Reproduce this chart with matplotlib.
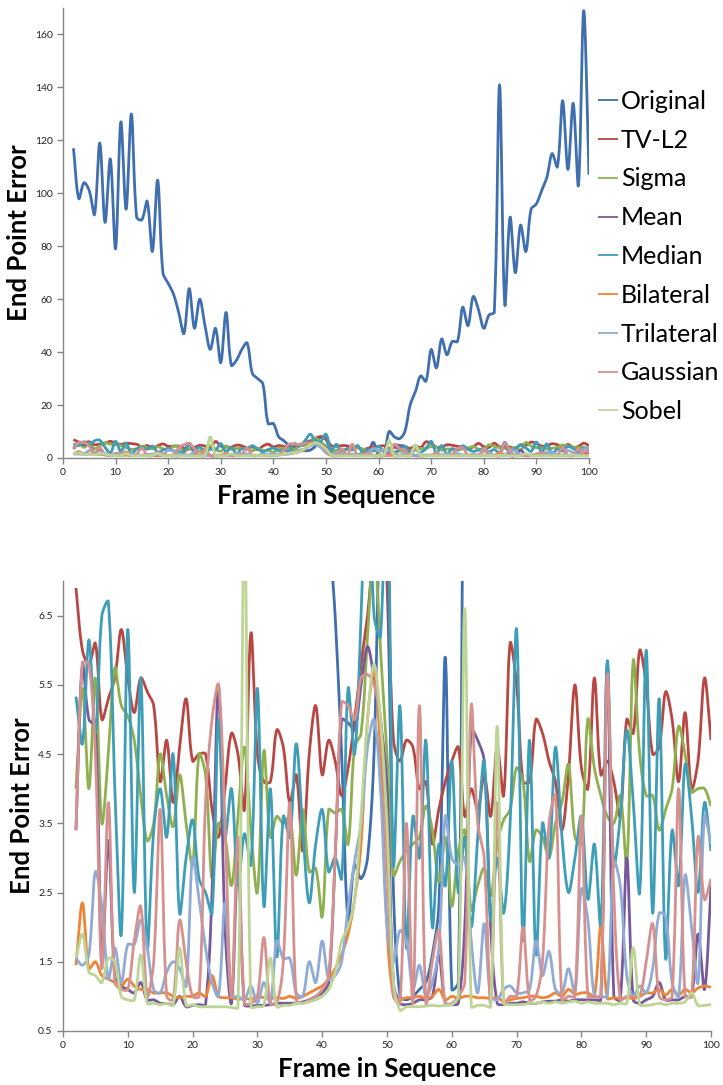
import numpy as np
import matplotlib.pyplot as plt

# End point error per frame, 9 methods (top: full range, bottom: zoomed 0.5-7)
frames = np.arange(2, 101)
names = ["Original", "TV-L2", "Sigma", "Mean", "Median", "Bilateral",
         "Trilateral", "Gaussian", "Sobel"]
colors = ["#3F6FAE", "#B84743", "#8FB04E", "#77599B", "#3E9DB7", "#EE8436",
          "#8FABD6", "#D6908E", "#BCD595"]

original = [117, 98, 104, 101, 92, 119, 89, 113, 79, 127,
            94, 130, 91, 90, 97, 78, 105, 70, 66, 62,
            55, 47, 64, 49, 60, 50, 41, 49, 36, 55,
            35, 37, 41, 43.5, 32, 30, 28, 13, 13, 8,
            6.5, 4.5, 2.1, 2.9, 2.7, 3.0, 4.5, 8, 7, 2.5,
            1.0, 0.95, 1.0, 1.1, 1.2, 1.6, 2.3, 5.9, 1.1, 1.2,
            10, 8, 7.3, 10, 20, 25, 31, 29, 41, 34,
            45, 39, 44, 44, 57, 50, 61, 56, 49, 54,
            55, 141, 58, 91, 70, 88, 78, 94, 96, 101,
            106, 115, 110, 135, 109, 134, 103, 169, 107]
tvl2 = [6.9, 6.0, 5.8, 6.1, 5.0, 5.3, 5.6, 6.3, 5.6, 5.1,
        5.6, 5.4, 5.2, 4.1, 4.7, 3.8, 4.6, 5.3, 4.4, 4.5,
        4.5, 3.7, 3.3, 4.0, 4.8, 4.5, 3.7, 6.25, 4.5, 4.1,
        4.1, 4.85, 4.6, 3.8, 4.2, 3.1, 4.5, 5.2, 4.2, 4.7,
        4.4, 3.9, 4.3, 5.0, 5.8, 6.5, 7.5, 8.0, 7.2, 4.7,
        4.4, 4.7, 4.6, 4.0, 4.1, 3.2, 3.7, 4.1, 4.4, 4.6,
        3.6, 4.0, 3.7, 4.2, 3.6, 4.6, 3.9, 6.1, 5.5, 4.1,
        4.1, 5.0, 4.8, 4.4, 4.1, 3.4, 4.2, 5.5, 4.3, 4.0,
        5.6, 4.2, 4.4, 4.1, 3.6, 5.0, 4.8, 6.0, 5.5, 4.5,
        4.6, 5.4, 5.0, 4.1, 5.1, 4.0, 4.4, 5.6, 4.7]
sigma = [4.0, 5.45, 4.0, 5.6, 3.5, 4.5, 5.75, 5.2, 5.05, 4.7,
         3.9, 3.25, 3.5, 4.5, 3.9, 3.45, 4.2, 3.5, 2.9, 4.5,
         4.2, 2.7, 3.5, 3.3, 2.6, 3.6, 4.6, 3.4, 2.5, 4.55,
         3.3, 3.6, 3.5, 3.6, 2.75, 3.7, 2.8, 2.85, 2.15, 3.7,
         3.65, 3.7, 3.2, 4.6, 4.8, 6.2, 7.5, 6.0, 4.5, 2.75,
         2.95, 3.1, 3.2, 3.3, 3.75, 3.4, 2.65, 3.3, 2.3, 3.1,
         3.4, 2.25, 2.6, 2.85, 2.45, 3.2, 3.55, 3.7, 4.3, 4.1,
         2.95, 3.4, 3.3, 3.0, 3.5, 3.8, 4.35, 3.3, 3.2, 5.0,
         4.3, 3.9, 3.6, 3.5, 3.9, 2.9, 5.85, 4.5, 3.9, 3.9,
         3.4, 3.7, 4.0, 4.9, 4.5, 3.95, 4.0, 4.0, 3.75]
mean = [3.4, 5.8, 5.0, 4.9, 1.5, 3.25, 1.3, 1.15, 1.1, 1.05,
        1.2, 0.95, 0.95, 0.9, 0.9, 0.88, 1.0, 0.85, 0.87, 0.88,
        0.88, 2.5, 5.5, 2.0, 0.9, 2.95, 0.88, 0.86, 0.87, 0.87,
        0.88, 0.9, 0.9, 0.9, 0.9, 0.92, 0.95, 1.0, 1.05, 1.2,
        3.0, 5.0, 4.95, 4.85, 5.5, 6.05, 5.6, 5.0, 4.0, 1.2,
        0.9, 0.88, 0.9, 0.95, 0.95, 1.0, 1.6, 0.9, 0.88, 0.9,
        2.0, 4.85, 4.7, 4.4, 2.0, 0.9, 0.88, 0.9, 0.9, 0.92,
        0.9, 0.9, 0.92, 0.93, 0.93, 0.95, 0.93, 0.95, 0.95, 0.95,
        0.95, 0.95, 5.8, 1.0, 0.95, 3.0, 0.95, 0.9, 0.95, 1.0,
        1.2, 0.95, 0.95, 0.95, 1.0, 1.0, 1.9, 1.1, 2.6]
median = [5.33, 4.65, 6.15, 4.8, 6.5, 6.7, 4.0, 1.9, 6.3, 2.5,
          5.6, 1.7, 3.4, 4.0, 3.3, 4.5, 2.2, 3.0, 3.55, 2.7,
          2.5, 2.2, 5.0, 3.3, 4.0, 2.6, 3.35, 2.9, 5.45, 2.3,
          4.0, 1.57, 3.6, 3.3, 4.65, 3.4, 2.35, 3.2, 3.7, 2.8,
          3.0, 2.7, 5.45, 4.5, 6.5, 9.0, 6.5, 6.2, 9.0, 2.9,
          5.2, 1.7, 3.6, 3.0, 4.7, 2.0, 3.2, 2.6, 4.4, 2.5,
          3.3, 2.0, 3.3, 4.4, 2.1, 3.0, 2.2, 3.5, 6.3, 1.8,
          4.7, 1.6, 3.5, 3.0, 4.6, 3.3, 2.5, 3.0, 3.6, 2.4,
          3.2, 2.0, 5.85, 2.9, 3.6, 4.85, 3.8, 2.5, 6.0, 2.2,
          5.3, 1.55, 3.4, 2.6, 4.35, 3.6, 2.5, 3.8, 3.1]
bilateral = [1.45, 2.35, 1.4, 1.5, 1.3, 1.25, 1.2, 1.15, 1.25, 1.15,
             1.1, 1.1, 1.05, 1.05, 1.05, 1.0, 0.98, 1.0, 1.0, 1.05,
             1.0, 1.3, 1.0, 0.98, 0.98, 0.96, 0.97, 0.96, 1.0, 0.98,
             0.97, 0.98, 0.97, 1.0, 0.97, 1.0, 1.05, 1.1, 1.15, 1.25,
             1.4, 1.6, 1.9, 2.4, 3.2, 5.0, 5.7, 4.5, 2.0, 1.0,
             0.95, 0.98, 0.98, 1.0, 0.97, 1.0, 1.1, 0.95, 1.0, 0.97,
             1.0, 1.0, 0.98, 0.98, 0.97, 0.98, 0.93, 0.95, 0.97, 0.98,
             1.0, 1.0, 0.98, 1.0, 1.05, 1.0, 1.1, 1.03, 1.05, 1.05,
             1.0, 2.0, 0.97, 0.98, 0.97, 0.98, 0.97, 1.0, 1.05, 1.05,
             1.1, 1.02, 1.1, 1.02, 1.1, 1.05, 1.12, 1.15, 1.13]
trilateral = [1.55, 1.45, 1.6, 2.8, 2.3, 1.25, 1.7, 1.2, 1.75, 1.75,
              2.1, 1.7, 1.1, 1.05, 1.35, 1.5, 1.4, 1.15, 3.0, 2.4,
              1.7, 1.2, 1.0, 2.35, 1.0, 1.0, 0.95, 1.15, 0.9, 1.2,
              0.9, 1.8, 1.55, 1.55, 1.05, 1.0, 1.5, 1.2, 1.8, 1.25,
              1.3, 1.5, 2.3, 2.95, 3.5, 4.6, 5.0, 4.0, 2.0, 1.5,
              1.95, 1.8, 1.1, 1.45, 1.0, 1.2, 1.7, 3.6, 3.0, 2.9,
              3.0, 1.8, 1.05, 2.05, 1.0, 0.95, 1.1, 1.15, 1.05, 1.05,
              1.1, 1.8, 1.3, 1.65, 1.1, 1.05, 1.4, 1.05, 2.55, 2.1,
              1.0, 1.0, 1.0, 2.95, 2.6, 1.3, 1.0, 1.15, 1.05, 1.4,
              2.2, 2.15, 1.2, 1.0, 2.75, 2.0, 1.2, 3.6, 3.2]
gaussian = [3.4, 5.82, 5.8, 4.5, 1.4, 3.8, 1.2, 1.1, 1.1, 1.8,
            2.3, 1.0, 1.5, 3.7, 1.0, 0.95, 2.1, 1.5, 1.0, 1.0,
            3.8, 5.0, 5.5, 3.5, 1.0, 3.3, 0.9, 0.9, 1.0, 1.85,
            0.9, 0.9, 1.5, 3.8, 0.95, 0.9, 0.95, 1.0, 1.1, 1.3,
            3.0, 5.25, 5.2, 5.0, 5.6, 5.65, 5.5, 5.0, 3.0, 1.0,
            0.9, 3.5, 0.9, 5.2, 0.9, 1.5, 1.95, 0.9, 0.9, 1.0,
            1.2, 5.2, 3.5, 3.0, 0.9, 3.8, 0.9, 1.0, 1.0, 2.0,
            0.95, 1.0, 1.5, 3.5, 3.9, 0.95, 1.0, 1.0, 3.6, 1.0,
            1.0, 1.0, 5.65, 2.5, 0.95, 1.0, 1.0, 1.0, 1.5, 2.05,
            1.0, 0.95, 1.0, 4.0, 1.0, 1.0, 3.3, 2.4, 2.7]
sobel = [1.55, 1.9, 1.35, 1.3, 1.2, 1.55, 1.5, 1.0, 0.95, 0.95,
         1.6, 0.9, 0.9, 0.88, 0.9, 0.87, 1.7, 0.87, 0.88, 0.85,
         0.85, 0.85, 0.85, 0.85, 0.84, 0.84, 8.0, 0.85, 0.85, 0.87,
         1.55, 0.85, 0.87, 0.87, 0.9, 0.9, 0.92, 0.95, 1.0, 1.1,
         1.35, 1.8, 2.0, 2.4, 3.6, 5.0, 5.8, 5.0, 3.5, 1.2,
         0.8, 0.85, 0.85, 0.85, 0.86, 0.87, 0.86, 0.87, 0.88, 1.0,
         6.6, 0.85, 0.87, 0.87, 0.85, 4.9, 0.9, 0.88, 0.88, 0.88,
         0.9, 0.9, 0.92, 0.9, 0.92, 0.9, 0.92, 0.93, 0.9, 0.92,
         0.9, 0.9, 0.9, 0.88, 0.9, 0.9, 1.7, 0.88, 0.87, 0.88,
         0.9, 0.88, 0.9, 0.9, 0.92, 1.05, 0.87, 0.87, 0.88]

series = [original, tvl2, sigma, mean, median, bilateral, trilateral, gaussian, sobel]


def smooth(x, y, kx, ky, n=16):
    # Excel-like smoothed line, tangents weighted by segment length in pixels
    P = np.column_stack([np.asarray(x, float) * kx, np.asarray(y, float) * ky])
    N = len(P)
    d = np.hypot(*np.diff(P, axis=0).T)
    T = np.zeros_like(P)
    for i in range(N):
        a = P[i - 1] if i > 0 else P[i]
        b = P[i + 1] if i < N - 1 else P[i]
        da = d[i - 1] if i > 0 else 0.0
        db = d[i] if i < N - 1 else 0.0
        T[i] = (b - a) / (da + db)
    t = np.linspace(0, 1, n)[:, None]
    out = []
    for i in range(N - 1):
        p1, p2 = P[i], P[i + 1]
        c1 = p1 + T[i] * d[i] / 3
        c2 = p2 - T[i + 1] * d[i] / 3
        out.append((1 - t) ** 3 * p1 + 3 * (1 - t) ** 2 * t * c1
                   + 3 * (1 - t) * t ** 2 * c2 + t ** 3 * p2)
    out = np.vstack(out)
    return out[:, 0] / kx, out[:, 1] / ky


plt.rcParams['font.family'] = ['Lato', 'DejaVu Sans']
fig = plt.figure(figsize=(7.23, 10.85), dpi=100)
ax1 = fig.add_axes([0.0871, 0.5779, 0.7275, 0.4147])
ax2 = fig.add_axes([0.0871, 0.0498, 0.8963, 0.4147])
ax1.set_ylim(0, 170)
ax2.set_ylim(0.5, 7.0)

for ax in (ax1, ax2):
    ax.set_xlim(0, 100)
    w, h = ax.bbox.width, ax.bbox.height
    y0, y1 = ax.get_ylim()
    for s, c, name in zip(series, colors, names):
        sx, sy = smooth(frames, s, w / 100, h / (y1 - y0))
        ax.plot(sx, sy, color=c, lw=2.0, label=name, solid_capstyle='butt')
    ax.set_xticks(np.arange(0, 101, 10))
    for side in ("top", "right"):
        ax.spines[side].set_visible(False)
    for side in ("left", "bottom"):
        ax.spines[side].set_color("#868686")
        ax.spines[side].set_linewidth(1.0)
    ax.tick_params(labelsize=7.5, colors="#868686", labelcolor="#222222",
                   length=4, width=1.0, direction="out")
    ax.set_xlabel("Frame in Sequence", fontsize=18.5, fontweight="bold", labelpad=5)
    ax.set_ylabel("End Point Error", fontsize=18.5, fontweight="bold", labelpad=3)

ax1.set_yticks(np.arange(0, 161, 20))
ax2.set_yticks([0.5, 1.5, 2.5, 3.5, 4.5, 5.5, 6.5])

leg = ax1.legend(loc="upper left", bbox_to_anchor=(598 / 723, 1 - 90 / 1085),
                 bbox_transform=fig.transFigure, frameon=False, fontsize=18,
                 handlelength=0.8, handletextpad=0.12, labelspacing=0.63,
                 borderpad=0, borderaxespad=0)
for hd in leg.legend_handles:
    hd.set_linewidth(1.3)

fig.savefig("out.png", dpi=100)
